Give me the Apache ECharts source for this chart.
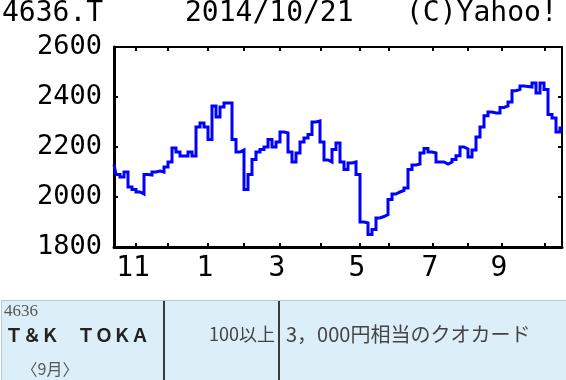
<!DOCTYPE html>
<html>
<head>
<meta charset="utf-8">
<script src="https://cdn.jsdelivr.net/npm/echarts@6/dist/echarts.min.js"></script>
<style>
html,body{margin:0;padding:0;background:#fff;}
#chart{width:566px;height:380px;}
</style>
</head>
<body>
<div id="chart"></div>
<script>
// Daily-ish closing prices, 2013/10/21 .. 2014/10/21
const closePrices = [
  2130, 2090, 2080, 2100, 2040, 2030, 2020, 2012, 2090, 2088,
  2100, 2104, 2100, 2120, 2140, 2196, 2180, 2164, 2164, 2180,
  2164, 2280, 2296, 2280, 2230, 2364, 2320, 2360, 2376, 2376,
  2230, 2180, 2188, 2030, 2090, 2150, 2180, 2190, 2200, 2230,
  2200, 2220, 2260, 2256, 2180, 2140, 2176, 2220, 2236, 2250,
  2300, 2304, 2220, 2148, 2140, 2190, 2216, 2140, 2110, 2136,
  2140, 2090, 1900, 1896, 1850, 1870, 1916, 1922, 1930, 1990,
  2012, 2020, 2026, 2036, 2110, 2128, 2132, 2176, 2194, 2180,
  2176, 2140, 2140, 2132, 2140, 2150, 2165, 2200, 2192, 2160,
  2188, 2240, 2280, 2325, 2340, 2336, 2336, 2358, 2364, 2380,
  2425, 2430, 2444, 2442, 2440, 2456, 2416, 2456, 2430, 2330,
  2316, 2260, 2276
];
// Month starts (in data-index units) for ticks, and labelled months
const monthTickIdx = [5.5, 13.5, 23.5, 32.5, 41.5, 51.75, 61.5, 68.75, 79.75, 88.5, 97, 107.75];
const monthLabelIdx = [5.5, 23.5, 41.5, 61.5, 79.75, 97];
const monthLabels = ['11', '1', '3', '5', '7', '9'];
const yTicks = {min: 1800, max: 2600, step: 200};

const headerTexts = ['4636.T', '2014/10/21', '(C)Yahoo!'];
const tableCode = '4636';
const tableName = 'Ｔ＆Ｋ　ＴＯＫＡ';
const tableMonth = '〈9月〉';
const tableShares = '100以上';
const tableBenefit = '3，000円相当のクオカード';

const MONO = '"DejaVu Sans Mono", "Liberation Mono", monospace';
const JP = '"Noto Sans CJK JP", "Noto Sans", sans-serif';

const chart = echarts.init(document.getElementById('chart'), null, {renderer: 'canvas'});

function labelFor(v) {
  for (let i = 0; i < monthLabelIdx.length; i++) {
    if (Math.abs(monthLabelIdx[i] - v) < 0.01) return monthLabels[i];
  }
  return '';
}

const tickCommon = {show: true, inside: true, length: 4, lineStyle: {color: '#000', width: 2}};

const option = {
  animation: false,
  backgroundColor: '#fff',
  grid: {left: 114, right: 4, top: 47, bottom: 133, show: true, borderColor: '#000', borderWidth: 2, containLabel: false},
  xAxis: [
    {
      type: 'value', min: 0, max: closePrices.length - 1, position: 'bottom',
      axisLine: {show: true, onZero: false, lineStyle: {color: '#000', width: 3}},
      axisTick: Object.assign({}, tickCommon, {customValues: monthTickIdx}),
      axisLabel: {
        show: true, customValues: monthLabelIdx, formatter: labelFor,
        fontFamily: MONO, fontSize: 28, color: '#000', margin: 8, padding: [0, 6, 0, 0]
      },
      splitLine: {show: false}
    },
    {
      type: 'value', min: 0, max: closePrices.length - 1, position: 'top',
      axisLine: {show: true, onZero: false, lineStyle: {color: '#000', width: 2}},
      axisTick: Object.assign({}, tickCommon, {customValues: monthTickIdx}),
      axisLabel: {show: false},
      splitLine: {show: false}
    }
  ],
  yAxis: [
    {
      type: 'value', min: yTicks.min, max: yTicks.max, interval: yTicks.step, position: 'left',
      axisLine: {show: true, onZero: false, lineStyle: {color: '#000', width: 3}},
      axisTick: tickCommon,
      axisLabel: {fontFamily: MONO, fontSize: 27, color: '#000', margin: 12, formatter: v => String(v)},
      splitLine: {show: false}
    },
    {
      type: 'value', min: yTicks.min, max: yTicks.max, interval: yTicks.step, position: 'right',
      axisLine: {show: true, onZero: false, lineStyle: {color: '#000', width: 2}},
      axisTick: tickCommon,
      axisLabel: {show: false},
      splitLine: {show: false}
    }
  ],
  series: [{
    type: 'line',
    xAxisIndex: 0, yAxisIndex: 0,
    data: closePrices.map((v, i) => [i, v]),
    step: 'middle',
    showSymbol: false,
    lineStyle: {color: '#0000FF', width: 3, join: 'miter'},
    z: 1
  }],
  graphic: [
    {type: 'text', left: 2, top: 0, style: {text: headerTexts[0], font: '28px ' + MONO, fill: '#000'}},
    {type: 'text', left: 185, top: 0, style: {text: headerTexts[1], font: '28px ' + MONO, fill: '#000'}},
    {type: 'text', left: 406, top: 0, style: {text: headerTexts[2], font: '28px ' + MONO, fill: '#000'}},
    {type: 'rect', shape: {x: 1.5, y: 300.5, width: 566, height: 82}, style: {fill: '#DCEFF9', stroke: '#B5C9D6', lineWidth: 1}},
    {type: 'line', shape: {x1: 164, y1: 301, x2: 164, y2: 380}, style: {stroke: '#3a3a3a', lineWidth: 2}},
    {type: 'line', shape: {x1: 279, y1: 301, x2: 279, y2: 380}, style: {stroke: '#3a3a3a', lineWidth: 2}},
    {type: 'text', x: 4, y: 312, style: {text: tableCode, font: '17px "Liberation Serif", "DejaVu Serif", serif', fill: '#555', textVerticalAlign: 'middle'}},
    {type: 'text', x: 5, y: 335, style: {text: tableName, font: 'bold 18px ' + JP, fill: '#222', textVerticalAlign: 'middle'}},
    {type: 'text', x: 50, y: 369, style: {text: tableMonth, font: '16px ' + JP, fill: '#555', textAlign: 'center', textVerticalAlign: 'middle'}},
    {type: 'text', x: 275, y: 334, style: {text: tableShares, font: '18px ' + JP, fill: '#444', textAlign: 'right', textVerticalAlign: 'middle'}},
    {type: 'text', x: 286, y: 334, style: {text: tableBenefit, font: '20px ' + JP, fill: '#444', textVerticalAlign: 'middle'}}
  ]
};
chart.setOption(option);
</script>
</body>
</html>
